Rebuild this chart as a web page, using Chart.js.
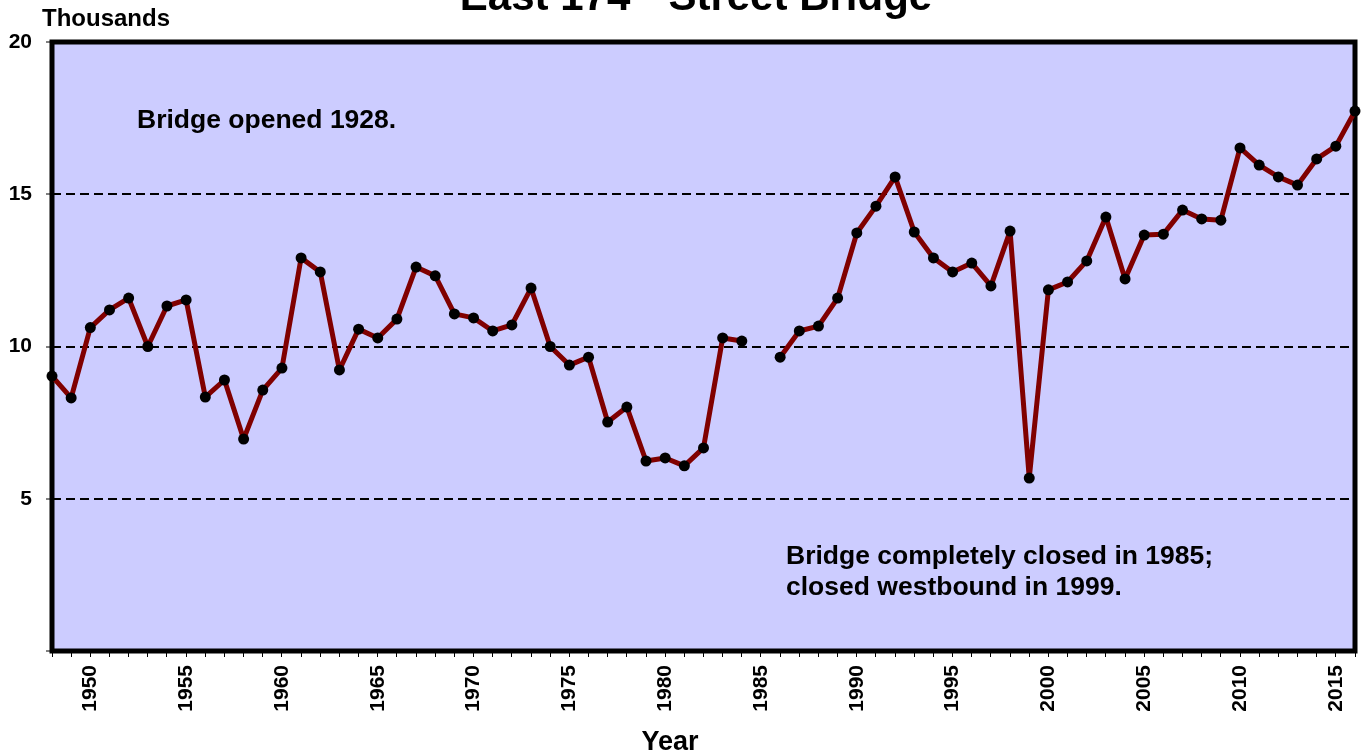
<!DOCTYPE html>
<html>
<head>
<meta charset="utf-8">
<title>East 174th Street Bridge</title>
<script src="https://cdn.jsdelivr.net/npm/chart.js"></script>
<style>
  html, body { margin: 0; padding: 0; background: #ffffff; }
  #wrap { width: 1364px; height: 756px; position: relative; }
</style>
</head>
<body>
<div id="wrap"><canvas id="bridgeChart" width="1364" height="756"></canvas></div>
<script>
// Annual traffic, thousands of vehicles (1985: bridge closed, no count)
var years = [
  1948, 1949, 1950, 1951, 1952, 1953, 1954, 1955, 1956, 1957,
  1958, 1959, 1960, 1961, 1962, 1963, 1964, 1965, 1966, 1967,
  1968, 1969, 1970, 1971, 1972, 1973, 1974, 1975, 1976, 1977,
  1978, 1979, 1980, 1981, 1982, 1983, 1984, 1985, 1986, 1987,
  1988, 1989, 1990, 1991, 1992, 1993, 1994, 1995, 1996, 1997,
  1998, 1999, 2000, 2001, 2002, 2003, 2004, 2005, 2006, 2007,
  2008, 2009, 2010, 2011, 2012, 2013, 2014, 2015, 2016
];
var traffic = [
  9.03, 8.31, 10.62, 11.20, 11.59, 10.00, 11.33, 11.53, 8.34, 8.90,
  6.96, 8.57, 9.29, 12.91, 12.45, 9.23, 10.57, 10.28, 10.90, 12.61,
  12.32, 11.07, 10.94, 10.51, 10.71, 11.92, 10.00, 9.39, 9.65, 7.52,
  8.01, 6.24, 6.34, 6.08, 6.67, 10.28, 10.18, null, 9.65, 10.51,
  10.67, 11.59, 13.73, 14.61, 15.57, 13.76, 12.91, 12.45, 12.74, 11.99,
  13.79, 5.68, 11.86, 12.12, 12.81, 14.25, 12.22, 13.66, 13.69, 14.48,
  14.19, 14.15, 16.52, 15.96, 15.57, 15.30, 16.16, 16.58, 17.73
];
var yTicks = [0, 5, 10, 15, 20];
var dashedLevels = [5, 10, 15];
var noteOpened = ['Bridge opened 1928.'];
var noteClosed = ['Bridge completely closed in 1985;', 'closed westbound in 1999.'];

var FONT = "'Liberation Sans', Arial, sans-serif";
Chart.defaults.font.family = FONT;
Chart.defaults.color = '#000000';

// light violet plot area
var plotBackground = {
  id: 'plotBackground',
  beforeDraw: function(chart) {
    var a = chart.chartArea, c = chart.ctx;
    c.save();
    c.fillStyle = '#CCCCFF';
    c.fillRect(a.left, a.top, a.right - a.left, a.bottom - a.top);
    c.restore();
  }
};

// heavy black frame around the plot
var plotFrame = {
  id: 'plotFrame',
  beforeDatasetsDraw: function(chart) {
    var a = chart.chartArea, c = chart.ctx;
    c.save();
    c.strokeStyle = '#000000';
    c.lineWidth = 5;
    c.strokeRect(a.left, a.top, a.right - a.left, a.bottom - a.top);
    c.restore();
  }
};

// title (runs off the top edge), unit label, axis name and notes
var chartTexts = {
  id: 'chartTexts',
  afterDraw: function(chart) {
    var c = chart.ctx;
    c.save();
    c.fillStyle = '#000000';
    c.textBaseline = 'alphabetic';
    c.textAlign = 'left';

    var big = 'bold 42px ' + FONT, sup = 'bold 28px ' + FONT;
    c.font = big;
    var w1 = c.measureText('East 174').width;
    var w3 = c.measureText(' Street Bridge').width;
    c.font = sup;
    var w2 = c.measureText('th').width;
    var x = 696 - (w1 + w2 + w3) / 2, base = 10;
    c.font = big;
    c.fillText('East 174', x, base);
    c.font = sup;
    c.fillText('th', x + w1, base - 15);
    c.font = big;
    c.fillText(' Street Bridge', x + w1 + w2, base);

    c.font = 'bold 24px ' + FONT;
    c.fillText('Thousands', 42, 26);

    c.textBaseline = 'middle';
    c.textAlign = 'center';
    c.font = 'bold 27px ' + FONT;
    c.fillText('Year', 670, 743);

    c.textAlign = 'left';
    c.font = 'bold 26.5px ' + FONT;
    noteOpened.forEach(function(t, i) { c.fillText(t, 137, 121 + i * 31); });
    noteClosed.forEach(function(t, i) { c.fillText(t, 786, 557 + i * 31); });
    c.restore();
  }
};

new Chart(document.getElementById('bridgeChart'), {
  type: 'line',
  data: {
    labels: years,
    datasets: [{
      label: 'Traffic',
      data: traffic,
      borderColor: '#800000',
      borderWidth: 5,
      borderJoinStyle: 'round',
      borderCapStyle: 'round',
      pointBackgroundColor: '#000000',
      pointBorderColor: '#000000',
      pointRadius: 5.5,
      pointBorderWidth: 0,
      tension: 0,
      spanGaps: false,
      clip: false
    }]
  },
  options: {
    responsive: false,
    animation: false,
    layout: { padding: { top: 42, right: 9, left: 0, bottom: 0 } },
    plugins: {
      legend: { display: false },
      tooltip: { enabled: false },
      title: { display: false }
    },
    scales: {
      x: {
        type: 'category',
        offset: false,
        border: { display: false },
        grid: {
          drawOnChartArea: false,
          drawTicks: true,
          tickLength: 6,
          tickColor: '#000000',
          tickWidth: 1
        },
        ticks: {
          autoSkip: false,
          maxRotation: 90,
          minRotation: 90,
          padding: 8,
          font: { size: 21, weight: 'bold' },
          color: '#000000',
          callback: function(v, i) {
            var yr = years[i];
            return yr % 5 === 0 && yr < 2016 ? String(yr) : '';
          }
        },
        afterFit: function(scale) {
          scale.height = 105;
          scale.paddingLeft = 0;
          scale.paddingRight = 0;
        }
      },
      y: {
        min: 0,
        max: 20,
        border: { display: false, dash: [9, 5] },
        grid: {
          drawOnChartArea: true,
          drawTicks: true,
          tickLength: 6,
          tickColor: '#000000',
          tickWidth: 1,
          lineWidth: 2,
          color: function(ctx) {
            return dashedLevels.indexOf(ctx.tick && ctx.tick.value) >= 0 ? '#000000' : 'rgba(0,0,0,0)';
          }
        },
        afterBuildTicks: function(scale) {
          scale.ticks = yTicks.map(function(v) { return { value: v }; });
        },
        ticks: {
          padding: 14,
          font: { size: 21, weight: 'bold' },
          color: '#000000',
          callback: function(v) { return v === 0 ? '' : String(v); }
        },
        afterFit: function(scale) {
          scale.width = 52;
          scale.paddingTop = 0;
          scale.paddingBottom = 0;
        }
      }
    }
  },
  plugins: [plotBackground, plotFrame, chartTexts]
});
</script>
</body>
</html>
